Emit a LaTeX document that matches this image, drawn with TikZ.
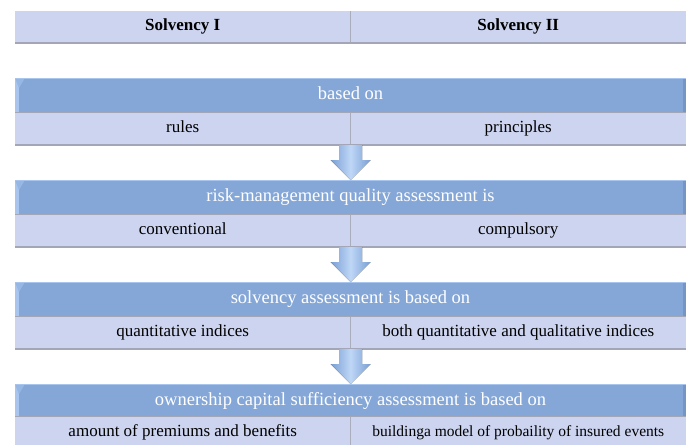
\documentclass[tikz,border=0pt]{standalone}
\usepackage{fontspec}
\setmainfont{Liberation Serif}
\usepackage{xcolor}
\usepackage{tikz}
\usetikzlibrary{positioning, calc}
\definecolor{cellfill}{HTML}{CCD4EF}
\definecolor{bandfill}{HTML}{84A7D8}
\definecolor{bandedge}{HTML}{A8C5EF}
\definecolor{banddark}{HTML}{7595C4}
\definecolor{shadowgray}{HTML}{A2A6B6}
\definecolor{divgray}{HTML}{A9ADBC}
\definecolor{arrowlight}{HTML}{BFD7F7}
\definecolor{arrowdark}{HTML}{789ED3}

% block arrow pointing down from a row to the next band
\newcommand{\blockdown}[2]{%
    \fill[blockarrow] ($(#1)+(-11.5,0)$) -- ($(#1)+(11.5,0)$) -- ($(#1)+(11.5,15)$)
        -- ($(#1)+(20,15)$) -- (#2) -- ($(#1)+(-20,15)$) -- ($(#1)+(-11.5,15)$) -- cycle;}

\begin{document}
\begin{tikzpicture}[
    x=1pt, y=-1pt,
    cell/.style={fill=cellfill, minimum width=335.5pt, minimum height=33pt, inner sep=0pt, outer sep=0pt, text height=11.5pt, text depth=3.5pt, font=\fontsize{17}{20}\selectfont},
    hdr/.style={cell, minimum height=32pt, font=\fontsize{17}{20}\selectfont\bfseries},
    band/.style={fill=bandfill, minimum width=671pt, minimum height=34pt, inner sep=0pt, outer sep=0pt, text height=12.5pt, text depth=4pt, text=white, font=\fontsize{18.5}{22}\selectfont,
        path picture={
            \fill[bandedge] (path picture bounding box.north west) rectangle ++(4,34);
            \fill[bandedge!50!bandfill] (path picture bounding box.north west) -- ++(10,0) -- ++(-6,10) -- cycle;
            \fill[banddark] (path picture bounding box.north east) rectangle ++(-3,34);
            \draw[bandedge, line width=1.2pt] (path picture bounding box.north west) -- (path picture bounding box.north east);
        }},
    blockarrow/.style={left color=arrowdark, right color=arrowdark, middle color=arrowlight},
    shadeline/.style={shadowgray, line width=2pt},
    divider/.style={divgray, line width=1pt},
]
    \useasboundingbox (0,0) rectangle (690,444);
    \clip (0,0) rectangle (690,444);

    % Header
    \node[hdr] (solvI) at (182.75, 27) {Solvency I};
    \node[hdr] (solvII) at (518.25, 27) {Solvency II};
    \draw[divider] (solvI.north east) -- (solvI.south east);
    \draw[shadeline] (solvI.south west) -- (solvII.south east);

    % Bands
    \node[band] (basedon) at (350.5, 95) {based on};
    \node[band] (riskq) at (350.5, 197) {risk-management quality assessment is};
    \node[band] (solvass) at (350.5, 299) {solvency assessment is based on};
    \node[band] (capital) at (350.5, 401) {ownership capital sufficiency assessment is based on};

    % Rows
    \node[cell] (rules) at (182.75, 128.5) {rules};
    \node[cell] (principles) at (518.25, 128.5) {principles};
    \node[cell] (conventional) at (182.75, 230.5) {conventional};
    \node[cell] (compulsory) at (518.25, 230.5) {compulsory};
    \node[cell] (quant) at (182.75, 332.5) {quantitative indices};
    \node[cell] (bothq) at (518.25, 332.5) {both quantitative and qualitative indices};
    \node[cell] (premiums) at (182.75, 432.5) {amount of premiums and benefits};
    \node[cell, font=\fontsize{15.5}{18}\selectfont] (model) at (518.25, 432.5) {buildinga model of probaility of insured events};

    % Cell edges
    \draw[divider] (rules.north east) -- (rules.south east);
    \draw[divider] (conventional.north east) -- (conventional.south east);
    \draw[divider] (quant.north east) -- (quant.south east);
    \draw[divider] (premiums.north east) -- (premiums.south east);
    \draw[shadowgray, thin] (rules.north west) -- (principles.north east);
    \draw[shadowgray, thin] (conventional.north west) -- (compulsory.north east);
    \draw[shadowgray, thin] (quant.north west) -- (bothq.north east);
    \draw[shadowgray, thin] (premiums.north west) -- (model.north east);
    \draw[shadeline] (rules.south west) -- (principles.south east);
    \draw[shadeline] (conventional.south west) -- (compulsory.south east);
    \draw[shadeline] (quant.south west) -- (bothq.south east);

    % Arrows
    \blockdown{rules.south east}{riskq.north}
    \blockdown{conventional.south east}{solvass.north}
    \blockdown{quant.south east}{capital.north}
\end{tikzpicture}
\end{document}
